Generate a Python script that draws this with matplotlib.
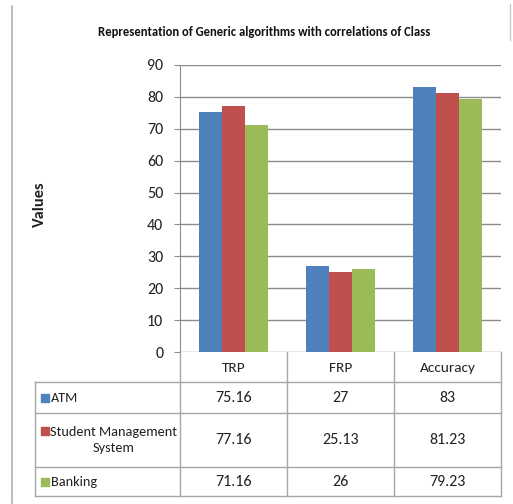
import matplotlib
matplotlib.use("Agg")
import matplotlib.pyplot as plt
import numpy as np
from matplotlib.lines import Line2D

plt.rcParams['font.family'] = ['Carlito', 'Lato', 'DejaVu Sans']

categories = ["TRP", "FRP", "Accuracy"]
series_names = ["ATM", "Student Management\nSystem", "Banking"]
atm = [75.16, 27, 83]
sms = [77.16, 25.13, 81.23]
banking = [71.16, 26, 79.23]
cell_text = [["75.16", "27", "83"], ["77.16", "25.13", "81.23"], ["71.16", "26", "79.23"]]
colors = ["#4F81BD", "#C0504D", "#9BBB59"]
yticks = [0, 10, 20, 30, 40, 50, 60, 70, 80, 90]

W, H = 513, 504
fig = plt.figure(figsize=(W / 100, H / 100), dpi=100)

def fx(px):
    return px / W

def fy(py):
    return 1 - py / H

grid_c = "#8C8C8C"
line_c = "#A6A6A6"
txt_c = "#222222"
fs_num = 11.5
fs_head = 11
fs_row = 10.3

# chart area
left, right, top, bottom = 180, 501, 65, 352
ax = fig.add_axes([fx(left), fy(bottom), fx(right - left), (bottom - top) / H])
x = np.arange(len(categories))
bw = 0.218
for i, vals in enumerate([atm, sms, banking]):
    ax.bar(x + (i - 1) * bw, vals, bw, color=colors[i], zorder=3)
ax.set_xlim(-0.5, 2.5)
ax.set_ylim(0, 90)
ax.set_yticks(yticks)
ax.set_yticklabels([str(v) for v in yticks], fontsize=fs_num, color=txt_c)
ax.set_xticks([])
ax.yaxis.grid(True, color=grid_c, linewidth=1, zorder=0)
for s in ["top", "right", "bottom"]:
    ax.spines[s].set_visible(False)
ax.spines["left"].set_color(grid_c)
ax.tick_params(axis="y", length=4, color=grid_c, pad=8)

fig.text(fx(40), fy(204), "Values", rotation=90, fontsize=11.8, fontweight="bold",
         ha="center", va="center", color=txt_c)
fig.text(fx(264), fy(32), "Representation of Generic algorithms with correlations of Class",
         fontsize=9.1, fontweight="bold", ha="center", va="center", color="#111111")

# data table under the chart
tx0, tx1, ty0, ty1 = 35, 501, 352, 496
tab = fig.add_axes([fx(tx0), fy(ty1), fx(tx1 - tx0), (ty1 - ty0) / H])
tab.set_xlim(tx0, tx1)
tab.set_ylim(ty1, ty0)
tab.axis("off")
col_edges = [180, 287, 394, 501]
row_edges = [352, 382, 413, 467, 496]
for cx in col_edges:
    tab.plot([cx, cx], [row_edges[0], row_edges[-1]], color=line_c, lw=1, clip_on=False)
tab.plot([tx0, tx0], [row_edges[1], row_edges[-1]], color=line_c, lw=1, clip_on=False)
for ry in row_edges[1:]:
    tab.plot([tx0, tx1], [ry, ry], color=line_c, lw=1, clip_on=False)
for j, c in enumerate(categories):
    tab.text((col_edges[j] + col_edges[j + 1]) / 2, (row_edges[0] + row_edges[1]) / 2 + 1, c,
             ha="center", va="center", fontsize=fs_head, color=txt_c)
for i, name in enumerate(series_names):
    yc = (row_edges[i + 1] + row_edges[i + 2]) / 2
    nlines = name.count("\n") + 1
    sq_y = yc - (nlines - 1) * 9.5
    tab.plot([44.5], [sq_y], marker="s", ms=6, color=colors[i], linestyle="none", clip_on=False)
    tab.text(50.5, yc, name, ha="left", va="center", fontsize=fs_row, multialignment="center",
             color=txt_c, linespacing=1.4)
    for j in range(len(categories)):
        tab.text((col_edges[j] + col_edges[j + 1]) / 2, yc, cell_text[i][j],
                 ha="center", va="center", fontsize=fs_num, color=txt_c)

# outer frame of the chart
fig.add_artist(Line2D([fx(12), fx(12)], [fy(6), fy(503)], color="#B0B0B0", lw=1.2))
fig.add_artist(Line2D([fx(510), fx(510)], [fy(4), fy(40)], color="#C8C8C8", lw=1))

fig.savefig("out.png", dpi=100)
